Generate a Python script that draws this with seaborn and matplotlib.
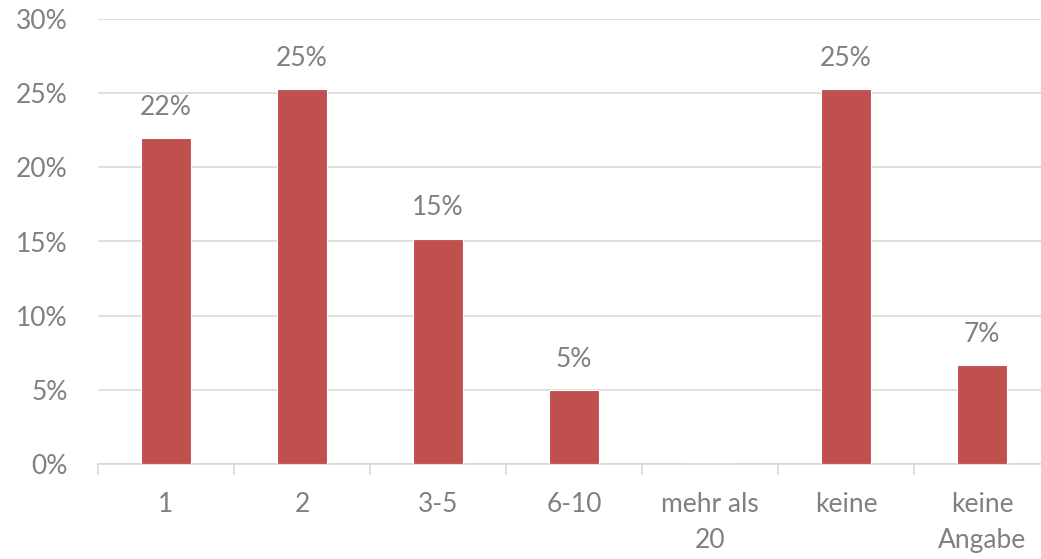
import numpy as np
import pandas as pd
import matplotlib
matplotlib.use("Agg")
import matplotlib.pyplot as plt
import seaborn as sns

# Data
categories = ["1", "2", "3-5", "6-10", "mehr als\n20", "keine", "keine\nAngabe"]
shares = [0.220, 0.253, 0.152, 0.050, 0.0, 0.253, 0.067]
y_ticks = [0.0, 0.05, 0.10, 0.15, 0.20, 0.25, 0.30]

BAR_COLOR = "#C0504D"
TEXT_COLOR = "#808080"
GRID_COLOR = "#D9D9D9"
FS = 19

sns.set_theme(style="white")
plt.rcParams["font.family"] = ["Lato", "DejaVu Sans"]

df = pd.DataFrame({"cat": categories, "share": shares})

fig = plt.figure(figsize=(10.41, 5.59), dpi=100)
ax = fig.add_axes([98 / 1041, 95 / 559, 952 / 1041, 445 / 559])

sns.barplot(data=df, x="cat", y="share", color=BAR_COLOR, saturation=1,
            width=0.37, edgecolor="white", linewidth=0.8, ax=ax, zorder=3)

ax.set_ylim(0, 0.30)
ax.set_xlim(-0.5, len(categories) - 0.5)
ax.set_yticks(y_ticks)
ax.set_yticklabels([f"{int(round(t * 100))}%" for t in y_ticks])
ax.yaxis.grid(True, color=GRID_COLOR, linewidth=1.2, zorder=0)
ax.set_axisbelow(True)
ax.set_xlabel("")
ax.set_ylabel("")

for side in ["top", "right", "left"]:
    ax.spines[side].set_visible(False)
ax.spines["bottom"].set_color(GRID_COLOR)
ax.spines["bottom"].set_linewidth(1.2)

# category boundary ticks on x axis
ax.set_xticks(np.arange(len(categories)))
ax.set_xticklabels(categories, linespacing=1.55)
ax.set_xticks(np.arange(-0.5, len(categories), 1), minor=True)
ax.tick_params(axis="x", which="major", length=0, pad=20,
               labelsize=FS, labelcolor=TEXT_COLOR)
ax.tick_params(axis="x", which="minor", length=8, width=1.2, color=GRID_COLOR,
               bottom=True, direction="out")
ax.tick_params(axis="y", length=0, pad=22, labelsize=FS, labelcolor=TEXT_COLOR)
for lab in ax.get_xticklabels():
    lab.set_verticalalignment("top")

for i, v in enumerate(shares):
    if v > 0:
        ax.annotate(f"{int(round(v * 100))}%", (i, v), xytext=(0, 13),
                    textcoords="offset points", ha="center", va="bottom",
                    fontsize=FS, color=TEXT_COLOR)

fig.savefig("out.png", dpi=100)
